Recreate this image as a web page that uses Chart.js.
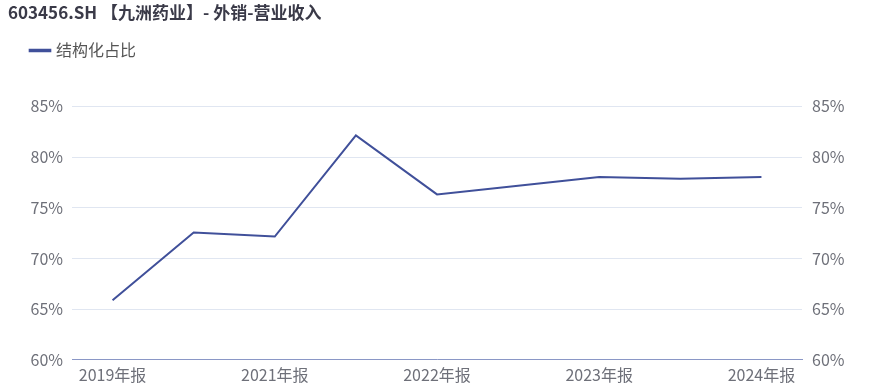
<!DOCTYPE html>
<html>
<head>
<meta charset="utf-8">
<script src="https://cdn.jsdelivr.net/npm/chart.js@4.4.1/dist/chart.umd.min.js"></script>
<style>
  html, body { margin: 0; padding: 0; background: #fff; }
  #wrap { width: 869px; height: 391px; }
</style>
</head>
<body>
<div id="wrap"><canvas id="lineChart" width="869" height="391"></canvas></div>
<script>
// chart data
const chartTitle = '603456.SH 【九洲药业】- 外销-营业收入';
const seriesName = '结构化占比';
const periods = ['2019年报', '2020年报', '2021年报', '2022中报', '2022年报', '2023中报', '2023年报', '2024中报', '2024年报'];
const ratioValues = [65.87, 72.55, 72.16, 82.13, 76.32, 77.18, 78.03, 77.86, 78.03];
const yTicks = [60, 65, 70, 75, 80, 85];

const fontFamily = '"Noto Sans CJK SC", "Noto Sans", sans-serif';
const lineColor = '#40509a';
const labelColor = '#6e7079';
const gridColor = '#e0e6f1';

function percentTick(value) {
    return value + '%';
}

document.addEventListener('DOMContentLoaded', function () {
    const ctx = document.getElementById('lineChart').getContext('2d');
    new Chart(ctx, {
        type: 'line',
        data: {
            labels: periods,
            datasets: [{
                label: seriesName,
                data: ratioValues,
                borderColor: lineColor,
                backgroundColor: lineColor,
                borderWidth: 2,
                pointRadius: 0,
                tension: 0,
                yAxisID: 'y'
            }]
        },
        options: {
            responsive: false,
            animation: false,
            devicePixelRatio: 1,
            layout: { padding: { left: 8, right: 0, top: 0, bottom: 0 } },
            plugins: {
                title: {
                    display: true,
                    text: chartTitle,
                    align: 'start',
                    color: '#3a3a48',
                    font: { family: fontFamily, size: 17, weight: 'bold', lineHeight: 1.2 },
                    padding: { top: 2, bottom: -4 }
                },
                legend: {
                    display: true,
                    position: 'top',
                    align: 'start',
                    weight: 1800,
                    labels: {
                        usePointStyle: true,
                        pointStyle: 'line',
                        boxWidth: 20,
                        padding: 24,
                        color: '#555',
                        font: { family: fontFamily, size: 16 },
                        generateLabels: function (chart) {
                            // thicker legend stroke, like the reference
                            const items = Chart.defaults.plugins.legend.labels.generateLabels(chart);
                            items.forEach(item => { item.lineWidth = 3.5; });
                            return items;
                        }
                    }
                },
                // empty subtitle used as spacing between legend and plot
                subtitle: {
                    display: true,
                    text: '',
                    font: { size: 10, lineHeight: 3.8 },
                    padding: 0
                },
                tooltip: { enabled: false }
            },
            scales: {
                x: {
                    offset: true,
                    grid: { display: false, drawTicks: false },
                    border: { display: true, color: '#8a97c6', width: 1 },
                    ticks: {
                        autoSkip: false,
                        maxRotation: 0,
                        padding: 6,
                        color: labelColor,
                        font: { family: fontFamily, size: 16 },
                        callback: function (val, idx) {
                            return idx % 2 === 0 ? this.getLabelForValue(val) : '';
                        }
                    }
                },
                y: {
                    position: 'left',
                    min: yTicks[0],
                    max: yTicks[yTicks.length - 1],
                    afterBuildTicks: function (axis) {
                        axis.ticks = yTicks.map(v => ({ value: v }));
                    },
                    afterFit: function (axis) { axis.width = 64; },
                    grid: { color: gridColor, lineWidth: 1, drawTicks: false },
                    border: { display: false },
                    ticks: {
                        padding: 9,
                        color: labelColor,
                        font: { family: fontFamily, size: 16 },
                        callback: percentTick
                    }
                },
                y1: {
                    position: 'right',
                    min: yTicks[0],
                    max: yTicks[yTicks.length - 1],
                    afterBuildTicks: function (axis) {
                        axis.ticks = yTicks.map(v => ({ value: v }));
                    },
                    afterFit: function (axis) { axis.width = 67; },
                    grid: { display: false, drawTicks: false },
                    border: { display: false },
                    ticks: {
                        padding: 10,
                        color: labelColor,
                        font: { family: fontFamily, size: 16 },
                        callback: percentTick
                    }
                }
            }
        }
    });
});
</script>
</body>
</html>
